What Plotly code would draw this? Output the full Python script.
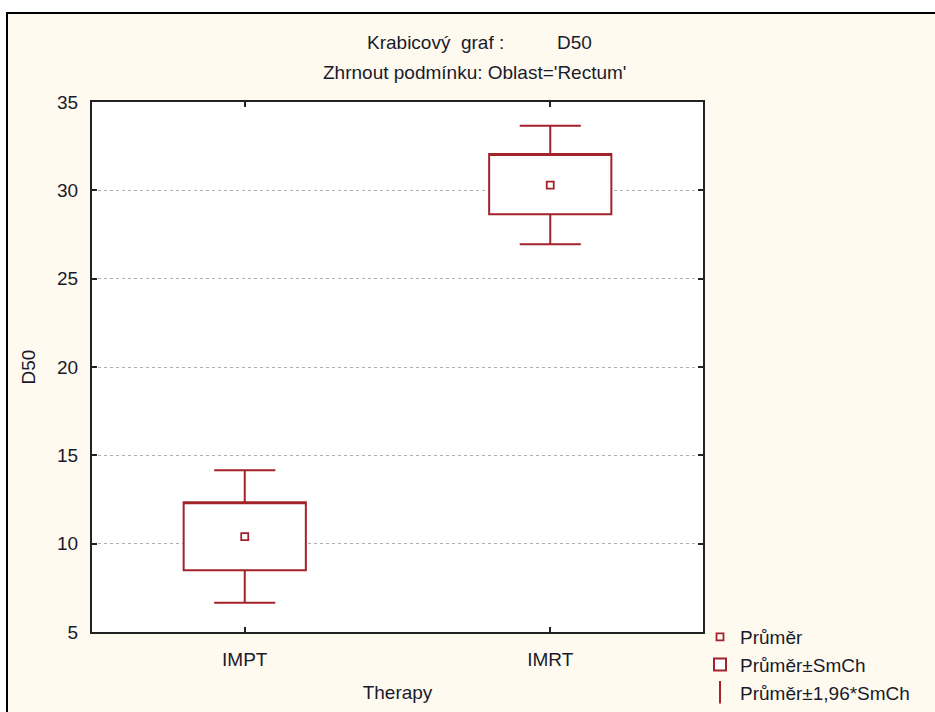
import plotly.graph_objects as go

# ---- data ----
categories = ["IMPT", "IMRT"]
mean_vals = [10.4, 30.3]
box_low = [8.5, 28.65]        # mean - SE
box_high = [12.35, 32.05]     # mean + SE
whisk_low = [6.65, 26.95]     # mean - 1.96*SE
whisk_high = [14.15, 33.65]   # mean + 1.96*SE
y_ticks = [5, 10, 15, 20, 25, 30, 35]

RED = "#a3232b"
CREAM = "#fffaf0"
FONT = "Liberation Sans, Arial, sans-serif"
TXT = "#1a1a2a"
FS = 19

W, H = 935, 712
ML, MR, MT, MB = 92, W - 703, 102, H - 632
PW, PH = W - ML - MR, H - MT - MB

def px_x(p):
    return (p - ML) / PW

def px_y(p):
    return (H - MB - p) / PH

fig = go.Figure()

fig.add_trace(go.Scatter(
    x=categories, y=mean_vals, mode="markers", name="Průměr",
    legendgroup="a",
    marker=dict(symbol="square-open", size=7, color=RED, line=dict(width=1.8, color=RED)),
))

fig.add_trace(go.Box(
    x=categories, q1=box_low, q3=box_high, median=box_high,
    lowerfence=whisk_low, upperfence=whisk_high,
    name="Průměr±SmCh", legendgroup="b",
    width=0.4, whiskerwidth=0.5, boxpoints=False,
    fillcolor="white", line=dict(color=RED, width=2),
))

fig.add_trace(go.Scatter(
    x=[None], y=[None], mode="markers", name="Průměr±1,96*SmCh",
    legendgroup="c",
    marker=dict(symbol="line-ns-open", size=18, color=RED, line=dict(width=2, color=RED)),
))

fig.update_layout(
    width=W, height=H,
    margin=dict(l=ML, r=MR, t=MT, b=MB, autoexpand=False),
    paper_bgcolor="white",
    plot_bgcolor="rgba(0,0,0,0)",
    font=dict(family=FONT, size=FS, color=TXT),
    showlegend=True,
    legend=dict(
        x=px_x(700), y=px_y(618), xanchor="left", yanchor="top",
        bgcolor="rgba(0,0,0,0)", tracegroupgap=0,
        font=dict(family=FONT, size=FS, color=TXT),
        itemwidth=30,
    ),
    shapes=[
        dict(type="rect", xref="paper", yref="paper", layer="below",
             x0=px_x(7), x1=px_x(W + 10), y0=px_y(H + 10), y1=px_y(13),
             fillcolor=CREAM, line=dict(color="black", width=2)),
        dict(type="rect", xref="paper", yref="paper", layer="below",
             x0=0, x1=1, y0=0, y1=1, fillcolor="white", line=dict(width=0)),
    ],
    annotations=[
        dict(text="Krabicový\u00a0\u00a0graf :\u00a0\u00a0\u00a0\u00a0\u00a0\u00a0\u00a0\u00a0\u00a0\u00a0D50",
             xref="paper", yref="paper", x=px_x(479), y=px_y(42),
             xanchor="center", yanchor="middle", showarrow=False,
             font=dict(family=FONT, size=FS, color=TXT)),
        dict(text="Zhrnout podmínku: Oblast='Rectum'",
             xref="paper", yref="paper", x=px_x(474), y=px_y(73),
             xanchor="center", yanchor="middle", showarrow=False,
             font=dict(family=FONT, size=FS, color=TXT)),
    ],
)

fig.update_xaxes(
    type="category", range=[-0.5, 1.5],
    showline=True, mirror="ticks", linecolor="#222", linewidth=2,
    ticks="inside", ticklen=5, tickwidth=1.5, tickcolor="#222",
    showgrid=False, zeroline=False,
    ticklabelstandoff=9,
    title=dict(text="Therapy", standoff=17, font=dict(family=FONT, size=FS, color=TXT)),
)
fig.update_yaxes(
    range=[5, 35], tickvals=y_ticks,
    showline=True, mirror="ticks", linecolor="#222", linewidth=2,
    ticks="inside", ticklen=5, tickwidth=1.5, tickcolor="#222",
    showgrid=True, gridcolor="#b0b0b0", griddash="dot", gridwidth=1,
    zeroline=False,
    ticklabelstandoff=8,
    title=dict(text="D50", standoff=16, font=dict(family=FONT, size=FS, color=TXT)),
)

fig.write_html(
    "out.html",
    config={"displayModeBar": False},
    post_script="document.body.style.margin='0';document.body.style.overflow='hidden';",
)
